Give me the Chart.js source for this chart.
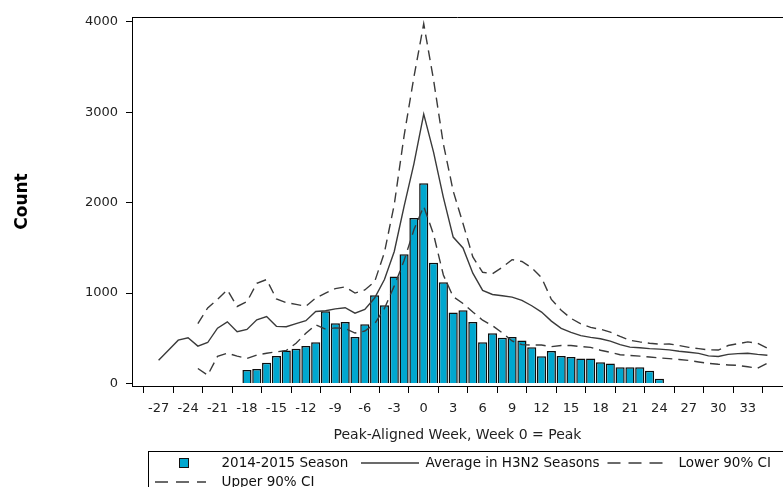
<!DOCTYPE html>
<html>
<head>
<meta charset="utf-8">
<script src="https://cdn.jsdelivr.net/npm/chart.js@4.4.1/dist/chart.umd.min.js"></script>
<style>
  html, body { margin: 0; padding: 0; background: #fff; overflow: hidden; }
  canvas { display: block; }
</style>
</head>
<body>
<canvas id="chart" width="783" height="487"></canvas>
<script>
// Weekly counts aligned on the epidemic peak (week 0)
const seasonWeeks = [-18, -17, -16, -15, -14, -13, -12, -11, -10, -9, -8, -7, -6, -5, -4, -3, -2, -1,
  0, 1, 2, 3, 4, 5, 6, 7, 8, 9, 10, 11, 12, 13, 14, 15, 16, 17, 18, 19, 20, 21, 22, 23, 24];
const seasonCounts = [150, 160, 230, 305, 365, 385, 415, 455, 800, 665, 680, 515, 655, 975, 865, 1185, 1430, 1830,
  2215, 1335, 1120, 785, 810, 680, 455, 555, 505, 515, 475, 400, 302, 360, 303, 292, 276, 276, 236, 221, 180, 180, 180, 142, 51];

const avgWeeks = [-27, -26, -25, -24, -23, -22, -21, -20, -19, -18, -17, -16, -15, -14, -13, -12, -11, -10, -9, -8, -7, -6, -5, -4, -3, -2, -1,
  0, 1, 2, 3, 4, 5, 6, 7, 8, 9, 10, 11, 12, 13, 14, 15, 16, 17, 18, 19, 20, 21, 22, 23, 24, 25, 26, 27, 28, 29, 30, 31, 32, 33, 34, 35];
const avgCounts = [258, 368, 479, 505, 413, 453, 612, 682, 573, 598, 705, 740, 632, 628, 663, 695, 796, 805, 826, 838, 778, 820, 945, 1150, 1460, 1960, 2430,
  2980, 2560, 2060, 1620, 1500, 1220, 1030, 985, 970, 955, 920, 860, 790, 690, 610, 565, 530, 510, 495, 468, 430, 402, 395, 386, 380, 372, 357, 345, 333, 305, 298, 322, 330, 334, 322, 313];

const ciWeeks = [-23, -22, -21, -20, -19, -18, -17, -16, -15, -14, -13, -12, -11, -10, -9, -8, -7, -6, -5, -4, -3, -2, -1,
  0, 1, 2, 3, 4, 5, 6, 7, 8, 9, 10, 11, 12, 13, 14, 15, 16, 17, 18, 19, 20, 21, 22, 23, 24, 25, 26, 27, 28, 29, 30, 31, 32, 33, 34, 35];
const lowerCI = [166, 92, 300, 335, 302, 276, 315, 335, 350, 365, 445, 555, 650, 600, 615, 608, 558, 580, 660, 830, 1080, 1360, 1700,
  1960, 1650, 1200, 960, 885, 790, 700, 640, 560, 470, 430, 425, 425, 408, 420, 420, 408, 400, 368, 345, 318, 310, 302, 293, 283, 275, 266, 255, 238, 222, 212, 205, 200, 185, 168, 225];
const upperCI = [663, 836, 930, 1035, 852, 905, 1108, 1150, 935, 895, 875, 855, 945, 1000, 1050, 1068, 1000, 1035, 1125, 1450, 1980, 2740, 3390,
  3980, 3360, 2650, 2130, 1770, 1400, 1230, 1215, 1285, 1370, 1350, 1280, 1170, 930, 810, 720, 660, 620, 600, 568, 520, 478, 460, 445, 435, 437, 420, 400, 385, 372, 370, 420, 440, 460, 445, 390];

const xTickValues = [-27, -24, -21, -18, -15, -12, -9, -6, -3, 0, 3, 6, 9, 12, 15, 18, 21, 24, 27, 30, 33];
const yTickValues = [0, 1000, 2000, 3000, 4000];

const seriesLabels = ['2014-2015 Season', 'Average in H3N2 Seasons', 'Lower 90% CI', 'Upper 90% CI'];

const BAR_FILL = '#00a7cf';
const LINE_GRAY = '#3a3a3a';
const DASH = [10, 6];
const FONT = '"DejaVu Sans", "Liberation Sans", sans-serif';

const toPoints = (xs, ys) => xs.map((x, i) => ({ x: x, y: ys[i] }));

// Frame top edge and the boxed legend under the axis title
const frameAndLegend = {
  id: 'frameAndLegend',
  afterDraw(chart) {
    const { ctx, chartArea: a } = chart;
    ctx.save();
    ctx.strokeStyle = '#000';
    ctx.lineWidth = 1;
    ctx.beginPath();
    ctx.moveTo(a.left, a.top + 0.5);
    ctx.lineTo(a.right, a.top + 0.5);
    ctx.stroke();

    // legend box
    ctx.strokeRect(148.5, 451.5, 700, 80);
    ctx.font = '13.5px ' + FONT;
    ctx.textBaseline = 'middle';
    ctx.textAlign = 'left';

    const row1 = 463, row2 = 482;
    // bar swatch
    ctx.fillStyle = BAR_FILL;
    ctx.fillRect(179, row1 - 5, 10, 10);
    ctx.strokeStyle = '#111';
    ctx.strokeRect(179.5, row1 - 4.5, 9, 9);
    ctx.fillStyle = '#111';
    ctx.fillText(seriesLabels[0], 221.5, row1);

    const lineSample = (x0, x1, y, dash) => {
      ctx.save();
      ctx.strokeStyle = LINE_GRAY;
      ctx.lineWidth = 1.4;
      ctx.setLineDash(dash);
      ctx.beginPath();
      ctx.moveTo(x0, y);
      ctx.lineTo(x1, y);
      ctx.stroke();
      ctx.restore();
    };
    lineSample(361, 419, row1, []);
    ctx.fillText(seriesLabels[1], 425.5, row1);
    lineSample(607.5, 666, row1, [13, 8]);
    ctx.fillText(seriesLabels[2], 678.5, row1);
    lineSample(155, 206, row2, [13, 8]);
    ctx.fillText(seriesLabels[3], 221.5, row2);
    ctx.restore();
  }
};

new Chart(document.getElementById('chart'), {
  type: 'bar',
  data: {
    datasets: [
      {
        type: 'line',
        label: seriesLabels[1],
        data: toPoints(avgWeeks, avgCounts),
        borderColor: LINE_GRAY,
        borderWidth: 1.4,
        pointRadius: 0,
        tension: 0,
        fill: false,
        order: 1
      },
      {
        type: 'line',
        label: seriesLabels[2],
        data: toPoints(ciWeeks, lowerCI),
        borderColor: LINE_GRAY,
        borderWidth: 1.4,
        borderDash: DASH,
        pointRadius: 0,
        tension: 0,
        fill: false,
        order: 1
      },
      {
        type: 'line',
        label: seriesLabels[3],
        data: toPoints(ciWeeks, upperCI),
        borderColor: LINE_GRAY,
        borderWidth: 1.4,
        borderDash: DASH,
        pointRadius: 0,
        tension: 0,
        fill: false,
        order: 1
      },
      {
        type: 'bar',
        label: seriesLabels[0],
        data: toPoints(seasonWeeks, seasonCounts),
        backgroundColor: BAR_FILL,
        borderColor: '#0d0d0d',
        borderWidth: 1.5,
        barPercentage: 0.93,
        categoryPercentage: 1.0,
        order: 10
      }
    ]
  },
  options: {
    responsive: false,
    devicePixelRatio: 1,
    animation: false,
    events: [],
    layout: { padding: { left: 0, right: 0, top: 17, bottom: 41 } },
    plugins: {
      legend: { display: false },
      tooltip: { enabled: false },
      title: { display: false }
    },
    scales: {
      x: {
        type: 'linear',
        min: -28.13,
        max: 35.01,
        afterBuildTicks: (s) => { s.ticks = xTickValues.map(v => ({ value: v })); },
        afterFit: (s) => { s.height = 60; },
        ticks: {
          autoSkip: false,
          maxRotation: 0,
          padding: 8,
          color: '#222',
          font: { family: FONT, size: 13 },
          callback: (v) => String(v)
        },
        grid: { drawOnChartArea: false, drawTicks: true, tickLength: 7, color: '#000' },
        border: { display: true, color: '#000', width: 1 },
        title: {
          display: true,
          text: 'Peak-Aligned Week, Week 0 = Peak',
          color: '#222',
          font: { family: FONT, size: 14 },
          padding: { top: 0, bottom: 2 }
        }
      },
      y: {
        type: 'linear',
        min: -28,
        max: 4055,
        afterBuildTicks: (s) => { s.ticks = yTickValues.map(v => ({ value: v })); },
        afterFit: (s) => { s.width = 132; },
        ticks: {
          padding: 8,
          color: '#222',
          font: { family: FONT, size: 13 },
          callback: (v) => String(v)
        },
        grid: { drawOnChartArea: false, drawTicks: true, tickLength: 6, color: '#000' },
        border: { display: true, color: '#000', width: 1 },
        title: {
          display: true,
          text: 'Count',
          color: '#000',
          font: { family: FONT, size: 17, weight: 'bold' },
          padding: { top: 12, bottom: 0 }
        }
      }
    }
  },
  plugins: [frameAndLegend]
});
</script>
</body>
</html>
